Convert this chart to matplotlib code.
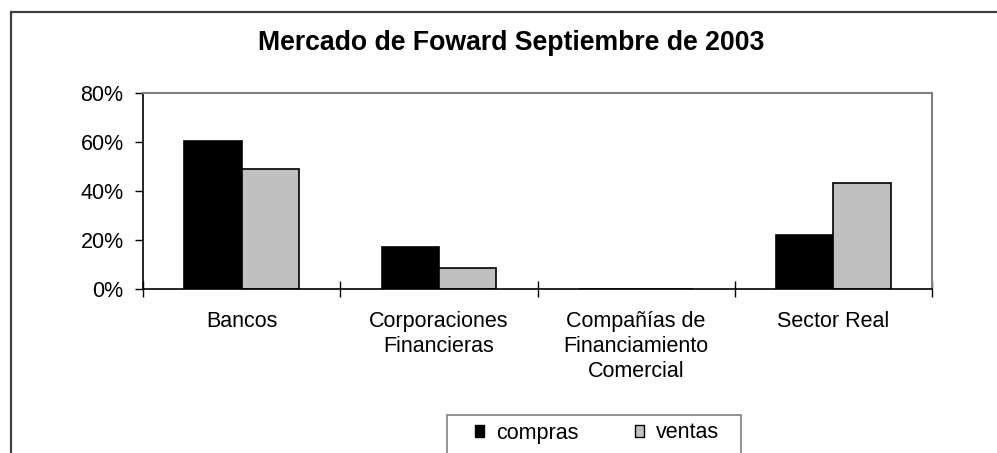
import matplotlib
matplotlib.use("Agg")
import matplotlib.pyplot as plt
from matplotlib.patches import Rectangle, Patch
from matplotlib.ticker import FuncFormatter, FixedLocator
import numpy as np

plt.rcParams['font.family'] = ['Liberation Sans', 'DejaVu Sans']

title = "Mercado de Foward Septiembre de 2003"
categories = ["Bancos", "Corporaciones\nFinancieras", "Compañías de\nFinanciamiento\nComercial", "Sector Real"]
compras = [60.4, 17.3, 0.0, 22.0]
ventas = [48.9, 8.5, 0.0, 43.1]
series_names = ["compras", "ventas"]
yticks = [0, 20, 40, 60, 80]

W, H = 997, 453
fig = plt.figure(figsize=(W / 100, H / 100), dpi=100)

# outer chart frame
fig.patches.append(Rectangle((10.5 / W, -0.1), 1.2, (H - 11.5) / H + 0.1,
                             transform=fig.transFigure, fill=False,
                             edgecolor="#404040", linewidth=1.6))

ax = fig.add_axes([143 / W, 1 - 289 / H, (932 - 143) / W, (289 - 93) / H])

x = np.arange(len(categories))
bw = 0.29
ax.bar(x - bw / 2, compras, width=bw, color="black", edgecolor="black", linewidth=1.2)
ax.bar(x + bw / 2, ventas, width=bw, color="#c0c0c0", edgecolor="black", linewidth=1.2)

ax.set_xlim(-0.5, len(categories) - 0.5)
ax.set_ylim(0, 80)
ax.set_yticks(yticks)
ax.yaxis.set_major_formatter(FuncFormatter(lambda v, p: f"{int(v)}%"))

ax.xaxis.set_major_locator(FixedLocator(np.arange(-0.5, len(categories), 1.0)))
ax.xaxis.set_major_formatter(FuncFormatter(lambda v, p: ""))
ax.set_xticks(x, minor=True)
ax.set_xticklabels(categories, minor=True, fontsize=15.5, linespacing=1.24)
ax.tick_params(axis="x", which="major", direction="inout", length=12, width=1, color="black")
ax.tick_params(axis="x", which="minor", length=0, pad=16)
ax.tick_params(axis="y", direction="out", length=6, width=1, pad=8, labelsize=15.5)

for s in ["left", "bottom"]:
    ax.spines[s].set_color("black")
    ax.spines[s].set_linewidth(1.2)
for s in ["top", "right"]:
    ax.spines[s].set_color("#808080")
    ax.spines[s].set_linewidth(1.5)

fig.text(511 / W, 1 - 50 / H, title, ha="center", va="baseline", fontsize=19.2, fontweight="bold")

# legend box
fig.patches.append(Rectangle((447 / W, -0.1), (741 - 447) / W, (H - 415) / H + 0.1,
                             transform=fig.transFigure, fill=False,
                             edgecolor="#808080", linewidth=1.2))
handles = [Patch(facecolor="black", edgecolor="black"),
           Patch(facecolor="#c0c0c0", edgecolor="black")]
fig.legend(handles, series_names, loc="center", bbox_to_anchor=(597 / W, 1 - 433 / H),
           ncol=2, frameon=False, fontsize=15.5, handlelength=0.45, handleheight=0.45,
           handletextpad=0.55, columnspacing=2.6)

fig.savefig("out.png", dpi=100)
